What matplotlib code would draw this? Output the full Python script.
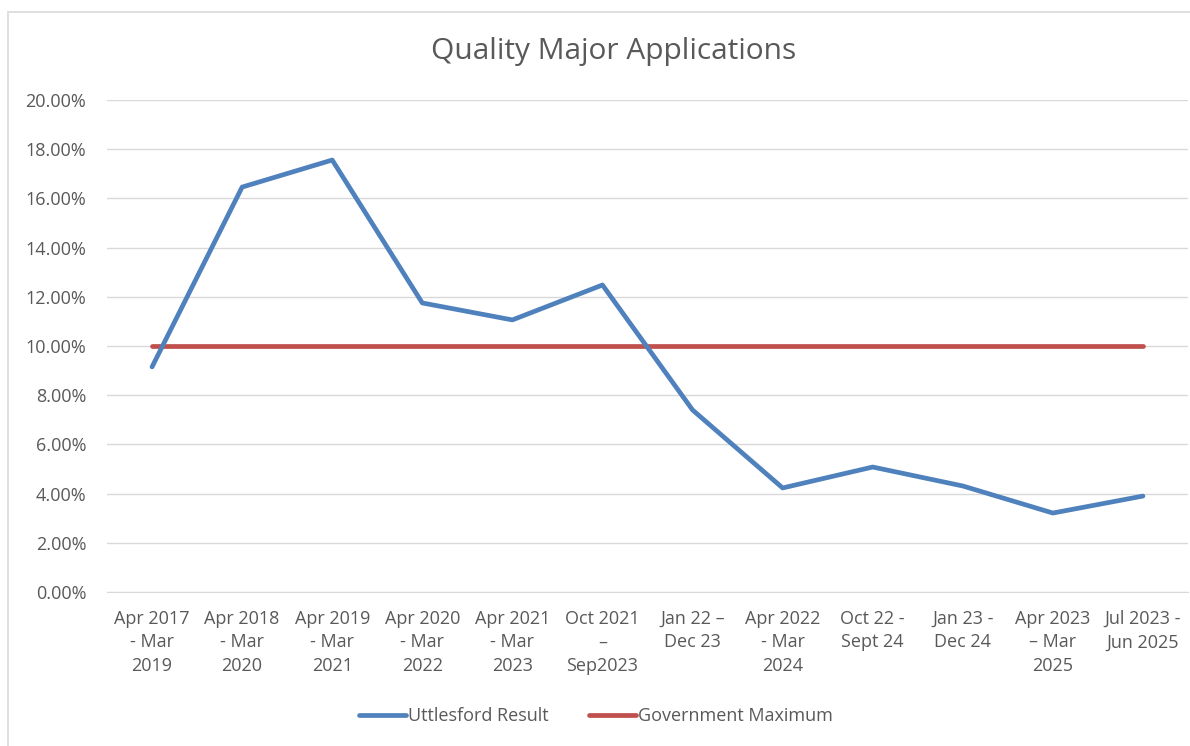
import matplotlib
matplotlib.use("Agg")
import matplotlib.pyplot as plt
from matplotlib.patches import Rectangle
from matplotlib.ticker import FuncFormatter

# Dados do gráfico
periodos = [
    "Apr 2017\n- Mar\n2019", "Apr 2018\n- Mar\n2020", "Apr 2019\n- Mar\n2021",
    "Apr 2020\n- Mar\n2022", "Apr 2021\n- Mar\n2023", "Oct 2021\n\u2013\nSep2023",
    "Jan 22 \u2013\nDec 23", "Apr 2022\n- Mar\n2024", "Oct 22 -\nSept 24",
    "Jan 23 -\nDec 24", "Apr 2023\n\u2013 Mar\n2025", "Jul 2023 -\nJun 2025",
]
resultado_uttlesford = [0.0915, 0.1646, 0.1756, 0.1175, 0.1106, 0.1248,
                        0.0740, 0.0423, 0.0508, 0.0431, 0.0321, 0.0390]
maximo_governo = [0.10] * 12

plt.rcParams['font.family'] = ['Open Sans', 'DejaVu Sans']
cinza = '#595959'

fig = plt.figure(figsize=(11.9, 7.46), dpi=100)
# moldura do gráfico
fig.patches.append(Rectangle((8 / 1190, -0.01), 1.05, (746 - 12) / 746 + 0.01,
                             transform=fig.transFigure, fill=False,
                             edgecolor='#d9d9d9', linewidth=1.2))

ax = fig.add_axes([107 / 1190, (746 - 592) / 746, (1188 - 107) / 1190, 492 / 746])
x = list(range(len(periodos)))
ax.plot(x, resultado_uttlesford, color='#4F81BD', linewidth=3.4,
        solid_capstyle='round', label='Uttlesford Result', zorder=3)
ax.plot(x, maximo_governo, color='#C0504D', linewidth=3.4,
        solid_capstyle='round', label='Government Maximum', zorder=2)

ax.set_xlim(-0.5, len(periodos) - 0.5)
ax.set_ylim(0, 0.20)
ax.set_yticks([i / 100 for i in range(0, 21, 2)])
ax.yaxis.set_major_formatter(FuncFormatter(lambda v, p: f"{v * 100:.2f}%"))
ax.set_xticks(x)
ax.set_xticklabels(periodos, linespacing=1.38)
ax.grid(axis='y', color='#d9d9d9', linewidth=1)
ax.set_axisbelow(True)
for lado in ['top', 'right', 'left']:
    ax.spines[lado].set_visible(False)
ax.spines['bottom'].set_color('#d9d9d9')
ax.tick_params(axis='both', length=0, colors=cinza, labelsize=13)
ax.tick_params(axis='x', pad=13)
ax.tick_params(axis='y', pad=15)

fig.text(614 / 1190, (746 - 51) / 746, 'Quality Major Applications',
         ha='center', va='center', fontsize=21.5, color=cinza)

fig.legend(loc='center', bbox_to_anchor=(596 / 1190, (746 - 716) / 746), ncol=2,
           frameon=False, fontsize=13, labelcolor=cinza, handlelength=2.6,
           handletextpad=0.15, columnspacing=2.2)

fig.savefig('out.png', dpi=100)
